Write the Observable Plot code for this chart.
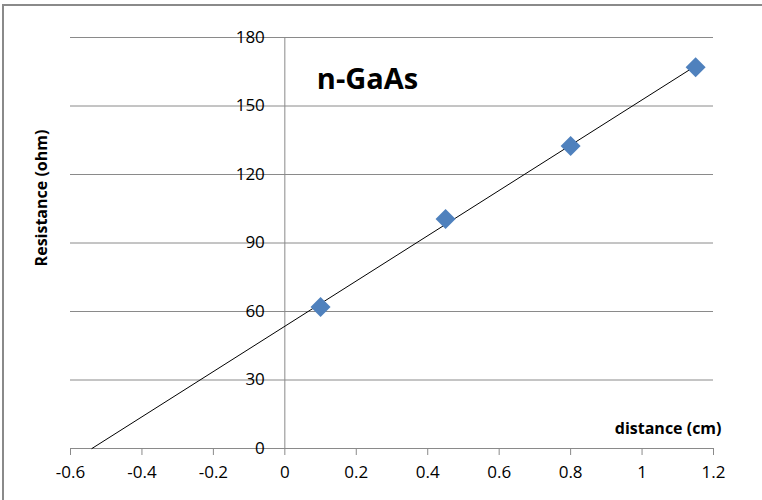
<!DOCTYPE html>
<html>
<head>
<meta charset="utf-8">
<script src="https://cdn.jsdelivr.net/npm/d3@7"></script>
<script src="https://cdn.jsdelivr.net/npm/@observablehq/plot@0.6"></script>
<style>
  html, body { margin: 0; padding: 0; background: #fff; overflow: hidden; }
  #wrap { position: relative; width: 762px; height: 500px; }
  #frame {
    position: absolute; left: 2px; top: 4px; width: 800px; height: 540px;
    border-top: 2px solid #8a8a8a; border-left: 2px solid #8a8a8a;
    box-sizing: border-box;
  }
  #chart { position: absolute; left: 0; top: 0; }
</style>
</head>
<body>
<div id="wrap">
  <div id="frame"></div>
  <div id="chart"></div>
</div>
<script>
// Measured resistance along the n-GaAs sample
const distance = [0.1, 0.45, 0.8, 1.15];     // cm
const resistance = [62, 100.5, 132.5, 167];  // ohm

const xTicks = [-0.6, -0.4, -0.2, 0, 0.2, 0.4, 0.6, 0.8, 1, 1.2];
const yTicks = [0, 30, 60, 90, 120, 150, 180];

const sampleLabel = "n-GaAs";
const xTitle = "distance (cm)";
const yTitle = "Resistance (ohm)";

const points = distance.map((d, i) => ({x: d, y: resistance[i]}));

// Least-squares trendline, extended back to where it reaches zero resistance
const mx = d3.mean(distance), my = d3.mean(resistance);
const slope = d3.sum(distance, (d, i) => (d - mx) * (resistance[i] - my)) /
              d3.sum(distance, d => (d - mx) ** 2);
const intercept = my - slope * mx;
const x0 = -intercept / slope;
const x1 = d3.max(distance);
const trend = [x0, x1].map(x => ({x, y: intercept + slope * x}));

const font = "'Open Sans', sans-serif";
const fmt = d => String(+d.toFixed(1));

const chart = Plot.plot({
  width: 762,
  height: 500,
  marginLeft: 70,
  marginRight: 49,
  marginTop: 37,
  marginBottom: 52,
  style: {fontFamily: font, fontSize: "17px", color: "#000", background: "transparent"},
  x: {domain: [-0.6, 1.2]},
  y: {domain: [0, 180], axis: null},
  marks: [
    Plot.gridY(yTicks, {stroke: "#8a8a8a", strokeOpacity: 1}),
    Plot.ruleX([0], {y1: 0, y2: 180, stroke: "#8a8a8a"}),
    Plot.ruleY([0], {stroke: "#8a8a8a"}),
    Plot.axisX(xTicks, {tickSize: 7, tickPadding: 10, tickFormat: fmt, stroke: "#8a8a8a",
                        fill: "#000", label: null, fontSize: 17}),
    Plot.text(yTicks, {x: 0, y: d => d, text: fmt, dx: -20, textAnchor: "end",
                       fontSize: 17, fill: "#000"}),
    Plot.line(trend, {x: "x", y: "y", stroke: "#000", strokeWidth: 1}),
    Plot.dot(points, {x: "x", y: "y", symbol: "diamond2", r: 9, fill: "#4F81BD", stroke: "none"}),
    Plot.text([sampleLabel], {frameAnchor: "top-left", dx: 297, dy: 31, textAnchor: "middle",
                              fontSize: 29, fontWeight: "bold", fill: "#000"}),
    Plot.text([xTitle], {frameAnchor: "bottom-right", dx: 8, dy: -15, textAnchor: "end",
                         fontSize: 16, fontWeight: "bold", fill: "#000"}),
  ]
});

// rotated y-axis title on the left side
const svg = d3.select(chart);
svg.append("text")
  .attr("transform", "translate(47,198) rotate(-90)")
  .attr("text-anchor", "middle")
  .attr("font-family", font)
  .attr("font-size", 16)
  .attr("font-weight", "bold")
  .text(yTitle);

document.getElementById("chart").append(chart);
</script>
</body>
</html>
